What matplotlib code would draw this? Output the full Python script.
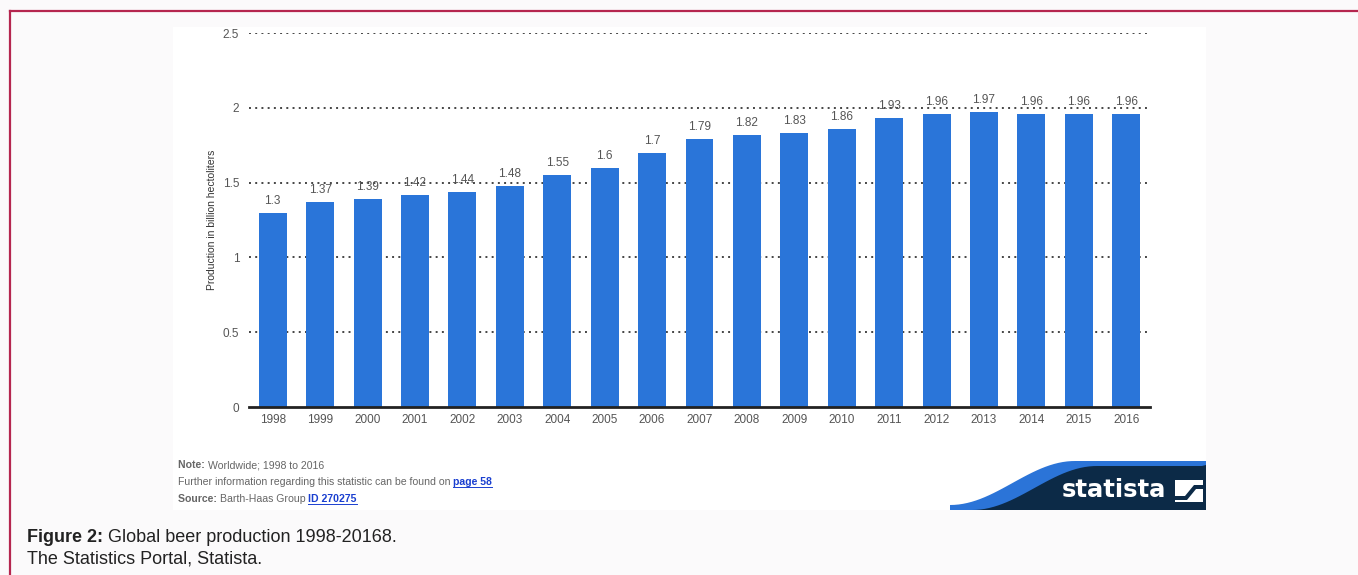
import matplotlib.pyplot as plt
import matplotlib.patches as mpatches
import numpy as np

plt.rcParams['font.family'] = ['Liberation Sans', 'DejaVu Sans']

# Data
years = ['1998', '1999', '2000', '2001', '2002', '2003', '2004', '2005', '2006', '2007',
         '2008', '2009', '2010', '2011', '2012', '2013', '2014', '2015', '2016']
production = [1.3, 1.37, 1.39, 1.42, 1.44, 1.48, 1.55, 1.6, 1.7, 1.79,
              1.82, 1.83, 1.86, 1.93, 1.96, 1.97, 1.96, 1.96, 1.96]
value_labels = ['1.3', '1.37', '1.39', '1.42', '1.44', '1.48', '1.55', '1.6', '1.7', '1.79',
                '1.82', '1.83', '1.86', '1.93', '1.96', '1.97', '1.96', '1.96', '1.96']
yticks = [0, 0.5, 1, 1.5, 2, 2.5]
ytick_labels = ['0', '0.5', '1', '1.5', '2', '2.5']

W, H = 1358, 575
fig = plt.figure(figsize=(W / 100, H / 100), dpi=100)
fig.patch.set_facecolor('#fbfafb')
renderer = fig.canvas.get_renderer()

def fx(px):
    return px / W

def fy(py):
    return 1 - py / H

def text_row(x0, y0, pieces, fontsize):
    # pieces: (string, color, weight, underline)
    xpos = x0
    for s, color, weight, underline in pieces:
        t = fig.text(fx(xpos), fy(y0), s, fontsize=fontsize, color=color, fontweight=weight, va='center')
        bb = t.get_window_extent(renderer)
        if underline:
            fig.add_artist(plt.Line2D([fx(xpos), fx(xpos + bb.width)], [fy(y0 + fontsize * 0.6), fy(y0 + fontsize * 0.6)],
                                      color=color, lw=0.7))
        xpos += bb.width

# crimson border (top and left only visible)
fig.add_artist(plt.Line2D([fx(10), 1], [fy(11), fy(11)], color='#b5264f', lw=1.6))
fig.add_artist(plt.Line2D([fx(10), fx(10)], [fy(11), 0], color='#b5264f', lw=1.6))

# white panel of the statista image
fig.add_artist(mpatches.Rectangle((fx(173), fy(510)), fx(1206) - fx(173), fy(27) - fy(510),
                                  transform=fig.transFigure, facecolor='white', edgecolor='none', zorder=0))

# statista banner
wave_x = np.linspace(950, 1206, 60)
t = (wave_x - 950) / 125
wave_top = 506 - 44 * np.clip(0.5 - 0.5 * np.cos(np.pi * np.clip(t, 0, 1)), 0, 1)
blue_pts = [(fx(950), fy(510))] + [(fx(x), fy(y - 1)) for x, y in zip(wave_x, wave_top)] + [(fx(1206), fy(510))]
fig.add_artist(mpatches.Polygon(blue_pts, closed=True, transform=fig.transFigure,
                                facecolor='#2b74d8', edgecolor='none', zorder=1))
navy_pts = [(fx(972), fy(510))] + [(fx(x + 22), fy(y + 4)) for x, y in zip(wave_x, wave_top) if x + 22 <= 1206] + \
           [(fx(1206), fy(465)), (fx(1206), fy(510))]
fig.add_artist(mpatches.Polygon(navy_pts, closed=True, transform=fig.transFigure,
                                facecolor='#0c2a47', edgecolor='none', zorder=2))
fig.text(fx(1062), fy(490), 'statista', color='white', fontsize=17.5, fontweight='bold',
         family='DejaVu Sans', ha='left', va='center', zorder=3)
# logo icon
fig.add_artist(mpatches.Rectangle((fx(1175), fy(502)), fx(1203) - fx(1175), fy(480) - fy(502),
                                  transform=fig.transFigure, facecolor='white', edgecolor='none', zorder=3))
fig.add_artist(mpatches.Polygon([(fx(1174), fy(496)), (fx(1185), fy(496)), (fx(1194), fy(485)), (fx(1204), fy(485)),
                                 (fx(1204), fy(489)), (fx(1196), fy(489)), (fx(1187), fy(500)), (fx(1174), fy(500))],
                                closed=True, transform=fig.transFigure, facecolor='#0c2a47', edgecolor='none', zorder=4))

# chart axes
ax = fig.add_axes([fx(249), fy(407), fx(1150) - fx(249), fy(33) - fy(407)])
ax.set_facecolor('none')
x = np.arange(len(years))
ax.bar(x, production, width=0.59, color='#2a75d9', zorder=2)
for xi, v, lab in zip(x, production, value_labels):
    ax.text(xi, v + 0.04, lab, ha='center', va='bottom', fontsize=8.5, color='#555555', zorder=3)

ax.set_xlim(-0.5, len(years) - 0.5)
ax.set_ylim(0, 2.5)
ax.set_yticks(yticks)
ax.set_yticklabels(ytick_labels)
ax.set_xticks(x)
ax.set_xticklabels(years)
ax.tick_params(axis='both', length=0, labelsize=8.5, labelcolor='#555555')
ax.tick_params(axis='y', pad=7)
ax.tick_params(axis='x', pad=5)
for y in yticks[1:]:
    ax.axhline(y, color='#444444', lw=1.4, ls=(0, (1, 2.2)), zorder=1)
for s in ['top', 'right', 'left']:
    ax.spines[s].set_visible(False)
ax.spines['bottom'].set_color('#222222')
ax.spines['bottom'].set_linewidth(2)
ax.spines['bottom'].set_zorder(3)
ax.set_ylabel('Production in billion hectoliters', fontsize=7.5, color='#333333', labelpad=4)

# notes
grey = '#666666'
link = '#1a3fd0'
text_row(178, 465, [('Note: ', grey, 'bold', False), ('Worldwide; 1998 to 2016', grey, 'normal', False)], 7.6)
text_row(178, 482, [('Further information regarding this statistic can be found on ', grey, 'normal', False),
                    ('page 58', link, 'bold', True)], 7.6)
text_row(178, 499, [('Source: ', grey, 'bold', False), ('Barth-Haas Group ', grey, 'normal', False),
                    ('ID 270275', link, 'bold', True)], 7.6)

# caption
text_row(27, 538, [('Figure 2: ', '#222222', 'bold', False),
                   ('Global beer production 1998-20168.', '#222222', 'normal', False)], 13)
text_row(27, 559, [('The Statistics Portal, Statista.', '#222222', 'normal', False)], 13)

fig.savefig('out.png', dpi=100, facecolor=fig.get_facecolor())
